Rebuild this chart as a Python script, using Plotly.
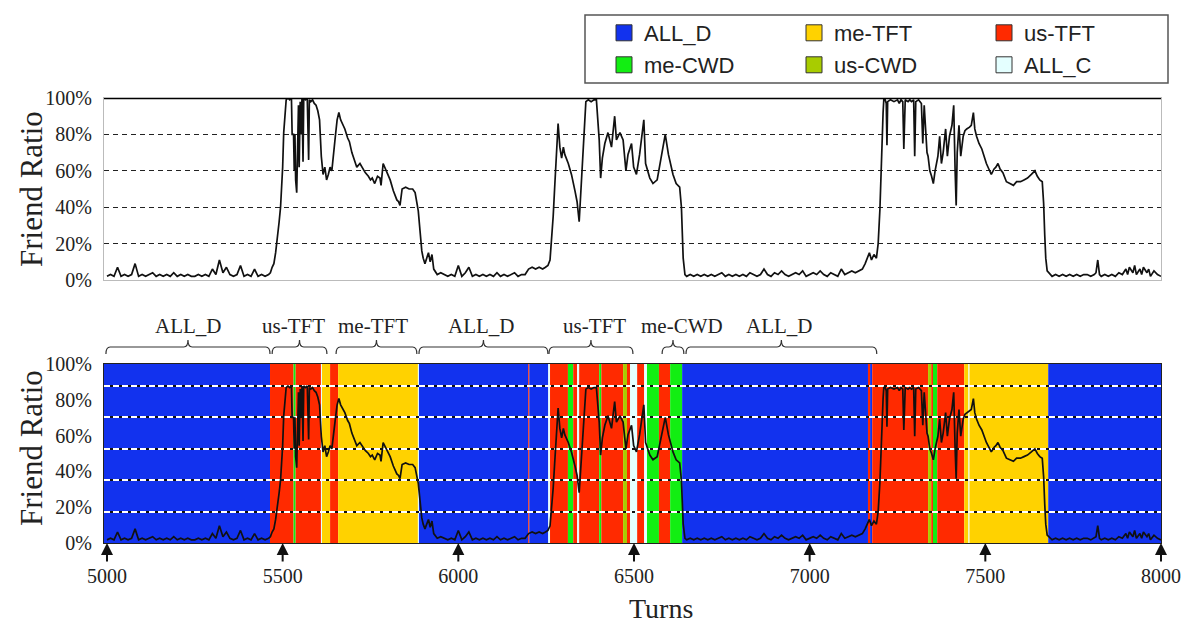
import plotly.graph_objects as go

# ---------------- data ----------------
TURNS = [
    5000, 5010, 5020, 5030, 5040, 5050, 5060, 5070, 5080, 5090, 5100, 5110, 5120, 5130, 5140, 5150,
    5160, 5170, 5180, 5190, 5200, 5210, 5220, 5230, 5240, 5250, 5260, 5270, 5280, 5290, 5300, 5310,
    5320, 5330, 5340, 5350, 5360, 5370, 5380, 5390, 5400, 5410, 5420, 5430, 5440, 5450, 5460,
    5465, 5470, 5475, 5480, 5484, 5487, 5490, 5494, 5497, 5500, 5503, 5507, 5510, 5515, 5520,
    5525, 5527, 5531, 5533, 5535, 5537, 5540, 5542, 5545, 5547, 5550, 5552, 5555, 5558, 5560,
    5565, 5570, 5574, 5576, 5580, 5585, 5590, 5595, 5600, 5605, 5610, 5615, 5620, 5625, 5630,
    5635, 5640, 5645, 5650, 5655, 5660, 5665, 5670, 5677, 5685, 5690, 5697, 5705, 5711, 5720,
    5728, 5735, 5744, 5750, 5755, 5762, 5770, 5777, 5780, 5786, 5795, 5800, 5806, 5815, 5825,
    5830, 5834, 5840, 5850, 5860, 5870, 5877, 5882, 5886, 5891, 5896, 5900, 5905, 5910, 5915,
    5920, 5925, 5930, 5940, 5950,
    5960, 5970, 5980, 5990, 6000, 6010, 6020, 6030, 6040, 6050, 6060, 6070, 6080, 6090, 6100,
    6110, 6120, 6130, 6140, 6150, 6160, 6170, 6180, 6190, 6200, 6210, 6220, 6230, 6240, 6248,
    6255, 6261, 6266, 6270, 6274, 6278, 6284, 6289, 6294, 6299, 6303, 6313, 6322, 6332, 6338,
    6344, 6348, 6352, 6356, 6363, 6370, 6378, 6386, 6393, 6401, 6405, 6410, 6417, 6426, 6436,
    6445, 6450, 6460, 6469, 6477, 6483, 6493, 6499, 6507, 6516, 6528, 6533, 6545, 6554, 6566,
    6578, 6589, 6598, 6611, 6620, 6630, 6635, 6640, 6645,
    6650, 6660, 6670, 6680, 6690, 6700, 6710, 6720, 6730, 6740, 6750, 6760, 6770, 6780, 6790,
    6800, 6810, 6820, 6830, 6840, 6850, 6860, 6870, 6880, 6890, 6900, 6910, 6920, 6930, 6940,
    6950, 6960, 6970, 6980, 6990, 7000, 7010, 7020, 7030, 7040, 7050, 7060, 7070, 7080, 7090,
    7100, 7110, 7120, 7130, 7140, 7150, 7158, 7164, 7170, 7176, 7183, 7190,
    7195, 7200, 7203, 7206, 7209, 7211, 7215, 7218, 7220, 7222, 7230, 7240, 7250, 7255, 7260,
    7265, 7268, 7272, 7280, 7285, 7290, 7296, 7299, 7302, 7310, 7318, 7322, 7326, 7330, 7334,
    7337, 7342, 7347, 7352, 7357, 7365, 7370, 7375, 7380, 7387, 7392, 7398, 7405, 7410, 7414,
    7417, 7420, 7425, 7430, 7437, 7442, 7447, 7455, 7460, 7466, 7470, 7475, 7482, 7490, 7497,
    7503, 7510, 7517, 7525, 7530, 7536, 7542, 7550, 7560, 7570, 7580, 7589, 7600, 7610, 7620,
    7631, 7641, 7648, 7655, 7662, 7666, 7669, 7672, 7676, 7684,
    7690, 7700, 7710, 7720, 7730, 7740, 7750, 7760, 7770, 7780, 7790, 7800, 7810, 7815, 7820,
    7825, 7830, 7840, 7850, 7860, 7870, 7880, 7890, 7900, 7905, 7910, 7920, 7925, 7930, 7940,
    7945, 7950, 7960, 7965, 7970, 7980, 7990, 8000,
]

FRIEND_RATIO = [
    .02, .03, .02, .07, .02, .03, .02, .03, .09, .02, .03, .02, .03, .04, .02, .03,
    .02, .03, .02, .04, .02, .03, .02, .03, .02, .02, .03, .02, .03, .02, .06, .03,
    .11, .04, .07, .03, .02, .03, .08, .02, .03, .02, .06, .02, .03, .02, .03,
    .04, .07, .09, .15, .21, .26, .32, .40, .49, .62, .81, .95, .99, 1.0, .99,
    1.0, .80, .80, .60, .80, .55, .48, .80, .96, .62, .98, .80, 1.0, .65, 1.0,
    .99, 1.0, .66, .99, .98, .99, .97, .96, .93, .88, .68, .58, .62, .55, .58,
    .62, .60, .68, .79, .88, .92, .88, .86, .83, .78, .76, .70, .66, .62, .64,
    .61, .59, .57, .55, .56, .53, .57, .56, .52, .64, .60, .58, .55, .49, .44,
    .43, .41, .50, .51, .50, .50, .48, .43, .38, .27, .16, .12, .09, .12, .15,
    .10, .14, .06, .03, .04,
    .03, .02, .03, .02, .08, .02, .04, .07, .02, .03, .02, .03, .02, .03, .02,
    .04, .02, .03, .02, .03, .04, .02, .03, .03, .06, .07, .06, .07, .06, .07,
    .08, .11, .22, .35, .50, .67, .86, .73, .67, .73, .69, .64, .58, .49, .43,
    .32, .47, .62, .77, .98, .99, .98, .99, .99, .77, .56, .67, .75, .81, .73,
    .90, .77, .81, .77, .60, .69, .75, .62, .58, .69, .88, .64, .56, .53, .55,
    .69, .80, .69, .58, .53, .51, .40, .12, .03,
    .02, .03, .02, .03, .02, .03, .02, .03, .02, .03, .04, .02, .03, .02, .03,
    .02, .03, .02, .04, .03, .02, .03, .06, .03, .02, .04, .03, .05, .03, .02,
    .03, .04, .03, .05, .02, .03, .04, .03, .05, .03, .02, .04, .03, .02, .06,
    .03, .04, .05, .04, .05, .06, .09, .12, .15, .11, .14, .12,
    .20, .39, .60, .78, .92, .99, .99, .97, .74, .98, .99, .98, .99, .97, .99,
    .98, .72, .99, .98, .99, .98, .99, .68, .98, .99, .97, .75, .96, .83, .70,
    .68, .60, .57, .53, .60, .68, .79, .64, .70, .83, .68, .79, .85, .96, .60,
    .41, .70, .85, .68, .79, .82, .83, .84, .85, .92, .83, .79, .75, .72, .67,
    .64, .61, .58, .61, .62, .64, .61, .59, .54, .53, .52, .54, .54, .55, .56,
    .58, .60, .57, .55, .54, .42, .25, .12, .05, .03,
    .02, .03, .02, .03, .02, .03, .02, .03, .02, .03, .03, .02, .03, .04, .11,
    .03, .02, .03, .02, .03, .02, .04, .03, .06, .03, .07, .04, .08, .03, .06,
    .03, .07, .04, .06, .02, .05, .03, .02,
]
assert len(TURNS) == len(FRIEND_RATIO)

STRATEGIES = ["ALL_D", "me-TFT", "us-TFT", "me-CWD", "us-CWD", "ALL_C"]
STRATEGY_COLORS = ["#1232EE", "#FFD200", "#FF2A00", "#12EE12", "#A8CC00", "#E4FFFF"]
LEGEND_ROW = [1, 1, 1, 2, 2, 2]

BAND_START = [4990, 5464, 5531, 5537, 5609, 5612, 5635, 5658, 5885, 5888, 6199, 6202, 6256,
              6261, 6312, 6327, 6338, 6344, 6401, 6407, 6469, 6480, 6489, 6509, 6529, 6537,
              6571, 6603, 6637, 7166, 7172, 7178, 7186, 7337, 7346, 7351, 7363, 7440, 7452,
              7455, 7679]
BAND_END = [5464, 5531, 5537, 5609, 5612, 5635, 5658, 5885, 5888, 6199, 6202, 6256, 6261,
            6312, 6327, 6338, 6344, 6401, 6407, 6469, 6480, 6489, 6509, 6529, 6537, 6571,
            6603, 6637, 7166, 7172, 7178, 7186, 7337, 7346, 7351, 7363, 7440, 7452, 7455,
            7679, 8000]
BAND_STRATEGY = ["ALL_D", "us-TFT", "me-CWD", "us-TFT", "ALL_C", "me-TFT", "us-TFT", "me-TFT",
                 "ALL_C", "ALL_D", "us-TFT", "ALL_D", "ALL_C", "us-TFT", "me-CWD", "us-TFT",
                 "ALL_C", "us-TFT", "me-CWD", "us-TFT", "us-CWD", "us-TFT", "ALL_C", "us-TFT",
                 "ALL_C", "me-CWD", "us-TFT", "me-CWD", "ALL_D", "us-TFT", "ALL_D", "us-TFT",
                 "us-TFT", "us-CWD", "us-TFT", "me-CWD", "us-TFT", "me-TFT", "ALL_C", "me-TFT",
                 "ALL_D"]

BRACE_START = [4997, 5470, 5652, 5888, 6258, 6580, 6648]
BRACE_END = [5464, 5626, 5882, 6255, 6497, 6642, 7191]
BRACE_LABEL = ["ALL_D", "us-TFT", "me-TFT", "ALL_D", "us-TFT", "me-CWD", "ALL_D"]
BRACE_LABEL_AT = [5231, 5531, 5757, 6066, 6389, 6636, 6915]

X_TICKS = [5000, 5500, 6000, 6500, 7000, 7500, 8000]
TOP_Y_TICKS = [0, 0.2, 0.4, 0.6, 0.8, 1.0]
Y_TICK_TEXT = ["0%", "20%", "40%", "60%", "80%", "100%"]
BOTTOM_LABEL_POS = [0.0, 0.228, 0.456, 0.684, 0.912, 1.139]
BOTTOM_GRID = [0.2, 0.4, 0.6, 0.8, 1.0]
X_RANGE = [4991.5, 8000]
BOTTOM_Y_MAX = 1.14

# ---------------- layout helpers ----------------
W, H = 1181, 627
def px_x(p):
    return p / W
def px_y(p):
    return 1 - p / H

SERIF = "Liberation Serif, Times New Roman, serif"
SANS = "Liberation Sans, Arial, sans-serif"
color_of = dict(zip(STRATEGIES, STRATEGY_COLORS))

fig = go.Figure()

# friend ratio lines
fig.add_trace(go.Scatter(x=TURNS, y=FRIEND_RATIO, mode="lines", xaxis="x", yaxis="y",
                         line=dict(color="#111111", width=1.7), showlegend=False,
                         hoverinfo="skip"))
fig.add_trace(go.Scatter(x=TURNS, y=FRIEND_RATIO, mode="lines", xaxis="x2", yaxis="y4",
                         line=dict(color="#111111", width=1.7), showlegend=False,
                         hoverinfo="skip"))

# legend entries (attached to the dark grid axis so that it is instantiated)
for name, col, row in zip(STRATEGIES, STRATEGY_COLORS, LEGEND_ROW):
    fig.add_trace(go.Scatter(x=[None], y=[None], mode="markers", xaxis="x2", yaxis="y3",
                             name=name, legend="legend" if row == 1 else "legend2",
                             marker=dict(symbol="square", size=16, color=col,
                                         line=dict(color="#333333", width=1))))

shapes = []
# strategy bands (bottom panel)
for s0, s1, st in zip(BAND_START, BAND_END, BAND_STRATEGY):
    shapes.append(dict(type="rect", xref="x2", yref="y2", x0=s0, x1=s1, y0=0, y1=BOTTOM_Y_MAX,
                       fillcolor=color_of[st], line=dict(width=0), layer="below"))
# solid top edge of upper panel
shapes.append(dict(type="line", xref="x domain", yref="y", x0=0, x1=1, y0=1, y1=1,
                   line=dict(color="black", width=2.5)))
# braces above the lower panel
yb, ym, yt = px_y(354), px_y(347), px_y(340)
c = 12
for b0, b1 in zip(BRACE_START, BRACE_END):
    bm = (b0 + b1) / 2
    path = (f"M {b0},{yb} Q {b0},{ym} {b0 + c},{ym} L {bm - c},{ym} Q {bm},{ym} {bm},{yt} "
            f"Q {bm},{ym} {bm + c},{ym} L {b1 - c},{ym} Q {b1},{ym} {b1},{yb}")
    shapes.append(dict(type="path", xref="x2", yref="paper", path=path,
                       line=dict(color="#333333", width=1.2)))
# legend frame
shapes.append(dict(type="rect", xref="paper", yref="paper", x0=px_x(585), x1=px_x(1168),
                   y0=px_y(83), y1=px_y(15), line=dict(color="#555555", width=1.5),
                   fillcolor="rgba(0,0,0,0)", layer="below"))

annotations = []
for at, lab in zip(BRACE_LABEL_AT, BRACE_LABEL):
    annotations.append(dict(x=at, xref="x2", y=px_y(326), yref="paper",
                            text=lab, showarrow=False, xanchor="center", yanchor="middle",
                            font=dict(family=SERIF, size=21, color="#222222")))
for t in X_TICKS:
    annotations.append(dict(x=t, y=0, xref="x2", yref="y2", ax=0, ay=20, text="",
                            showarrow=True, arrowhead=2, arrowsize=1.2, arrowwidth=2,
                            arrowcolor="#111111", standoff=0))
for yc in (189, 448):
    annotations.append(dict(x=px_x(31), y=px_y(yc), xref="paper", yref="paper",
                            text="Friend Ratio", textangle=-90, showarrow=False,
                            xanchor="center", yanchor="middle",
                            font=dict(family=SERIF, size=31, color="#222222")))
annotations.append(dict(x=px_x(661), y=px_y(608), xref="paper", yref="paper", text="Turns",
                        showarrow=False, xanchor="center", yanchor="middle",
                        font=dict(family=SERIF, size=28, color="#222222")))

xdom = [px_x(104), px_x(1161)]
tick_font = dict(family=SERIF, size=20, color="#222222")

fig.update_layout(
    template="none",
    width=W, height=H, margin=dict(l=0, r=0, t=0, b=0, pad=0), autosize=False,
    paper_bgcolor="white", plot_bgcolor="rgba(0,0,0,0)",
    shapes=shapes, annotations=annotations,
    xaxis=dict(domain=xdom, range=X_RANGE, anchor="y", showticklabels=False, ticks="",
               showgrid=False, zeroline=False, showline=True, mirror=True,
               linecolor="#bbbbbb", linewidth=1, automargin=False),
    yaxis=dict(domain=[px_y(280), px_y(98)], range=[0, 1.0], anchor="x",
               tickvals=TOP_Y_TICKS, ticktext=Y_TICK_TEXT, tickfont=tick_font, ticks="",
               ticklabelstandoff=7, showgrid=True, gridcolor="#222222", gridwidth=1,
               griddash="5px,4px", zeroline=False, showline=True, mirror=True,
               linecolor="#bbbbbb", linewidth=1, automargin=False),
    xaxis2=dict(domain=xdom, range=X_RANGE, anchor="y2", tickvals=X_TICKS,
                tickfont=tick_font, ticks="", ticklabelstandoff=15, showgrid=False,
                zeroline=False, showline=True, mirror=True, linecolor="#222222",
                linewidth=1, automargin=False),
    yaxis2=dict(domain=[px_y(543), px_y(364)], range=[0, BOTTOM_Y_MAX], anchor="x2",
                tickvals=BOTTOM_LABEL_POS, ticktext=Y_TICK_TEXT, tickfont=tick_font,
                ticks="", ticklabelstandoff=7, showgrid=False, zeroline=False,
                showline=True, mirror=True, linecolor="#222222", linewidth=1,
                automargin=False),
    yaxis3=dict(overlaying="y2", anchor="x2", range=[0, BOTTOM_Y_MAX], tickvals=BOTTOM_GRID,
                showticklabels=False, ticks="", showgrid=True, gridcolor="#111111",
                gridwidth=1.5, zeroline=False, showline=False, automargin=False),
    yaxis4=dict(overlaying="y2", anchor="x2", range=[0, BOTTOM_Y_MAX], tickvals=BOTTOM_GRID,
                showticklabels=False, ticks="", showgrid=True, gridcolor="white",
                gridwidth=1.5, griddash="6px,3px", zeroline=False, showline=False,
                automargin=False),
    legend=dict(orientation="h", x=px_x(604), y=px_y(33), xanchor="left", yanchor="middle",
                entrywidth=145, entrywidthmode="pixels", bgcolor="rgba(0,0,0,0)",
                borderwidth=0, font=dict(family=SANS, size=22, color="#222222"),
                itemsizing="trace"),
    legend2=dict(orientation="h", x=px_x(604), y=px_y(65), xanchor="left", yanchor="middle",
                 entrywidth=145, entrywidthmode="pixels", bgcolor="rgba(0,0,0,0)",
                 borderwidth=0, font=dict(family=SANS, size=22, color="#222222"),
                 itemsizing="trace"),
)

# keep the page free of the default body margin so the figure sits at the window origin
POST = ("document.body.style.margin='0';document.body.style.padding='0';"
        "document.body.style.overflow='hidden';"
        "var gd=document.getElementById('{plot_id}');"
        "gd.style.width='1181px';gd.style.height='627px';"
        "Plotly.relayout(gd,{width:1181,height:627});")

fig.write_html("out.html", post_script=POST,
               config={"responsive": False, "displayModeBar": False})
